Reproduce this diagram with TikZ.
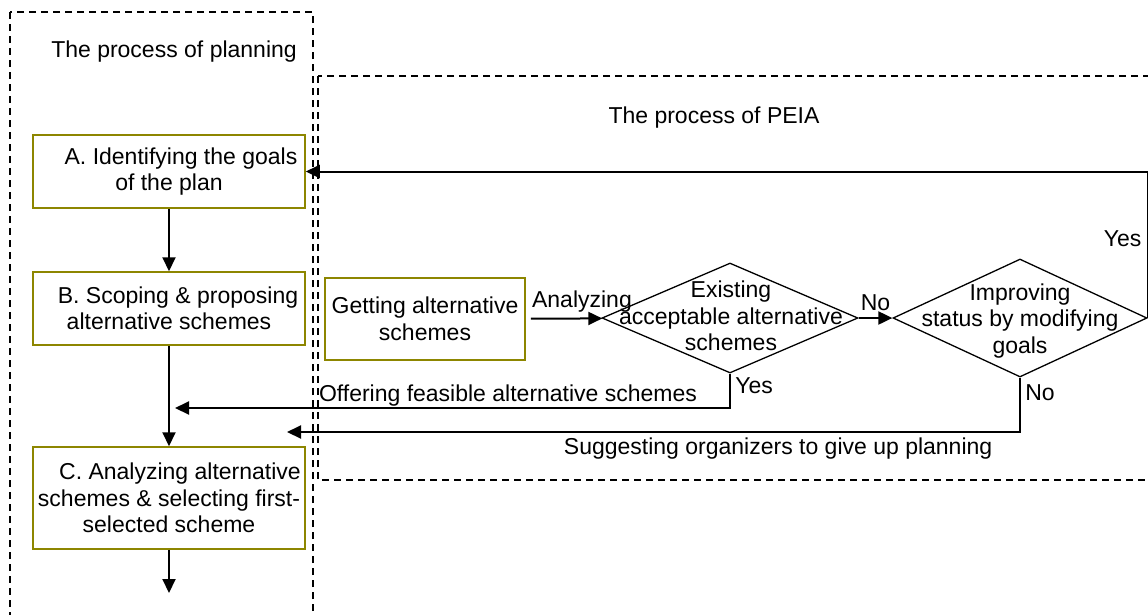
\documentclass[tikz,border=0pt]{standalone}
\usepackage{fontspec}
\setmainfont{Liberation Sans}
\usetikzlibrary{arrows.meta,shapes.geometric}
\begin{document}
\begin{tikzpicture}[x=1pt,y=-1pt,
        every node/.style={font=\fontsize{23}{26.5}\selectfont},
        stage/.style={draw=olive,line width=1.5pt,minimum width=272pt,align=center,inner sep=0pt},
        test/.style={draw,diamond,line width=1.3pt,inner sep=0pt},
        region/.style={draw,line width=1.3pt,dash pattern=on 7pt off 5pt},
        flow/.style={-{Triangle[length=14pt,width=13pt]},line width=2pt}]
    \clip (0,0) rectangle (1148,614);
    \draw[region] (10,12) rectangle (313,640);
    \draw[region] (318,76) rectangle (1170,480);
    \node (plantitle) at (174,52) {The process of planning};
    \node (peiatitle) at (714,118) {The process of PEIA};
    \node[stage,minimum height=73pt] (goals) at (169,171.5) {\hspace*{24pt}A. Identifying the goals\\of the plan};
    \node[stage,minimum height=73pt] (scoping) at (169,308.5) {\hspace*{18pt}B. Scoping \& proposing\\alternative schemes};
    \node[stage,minimum height=102pt] (select) at (169,498) {\hspace*{22pt}C. Analyzing alternative\\schemes \& selecting first-\\selected scheme};
    \node[stage,minimum width=200pt,minimum height=82pt] (getalt) at (425,319) {Getting alternative\\schemes};
    \node[test,minimum width=256pt,minimum height=110pt] (exist) at (730,318) {};
    \node[align=center] (existtext) at (731,316) {Existing\\acceptable alternative\\schemes};
    \node[test,minimum width=254pt,minimum height=118pt] (improve) at (1020,318) {};
    \node[align=center] (improvetext) at (1020,321) {Improving\\status by modifying\\goals};
    \coordinate (onward) at (169,593);
    \coordinate (offer) at (175,408);
    \coordinate (giveup) at (287,432);
    \draw[flow] (goals) -- (scoping);
    \draw[flow] (scoping) -- (select);
    \draw[flow] (select) -- (onward);
    \draw[flow,shorten <=5pt] (getalt) -- (exist) node[pos=0,anchor=south west,xshift=2pt,yshift=2pt] {Analyzing};
    \draw[flow] (exist) -- (improve) node[midway,above=3pt] {No};
    \draw[flow] (improve.east) |- (goals.east) node[pos=.27,left=2pt] {Yes};
    \draw[flow] (exist.south) |- (offer) node[pos=.18,right=1pt] {Yes}
        node[pos=.7,above=-3pt] {Offering feasible alternative schemes};
    \draw[flow] (improve.south) |- (giveup) node[pos=.14,right=1pt] {No}
        node[pos=.665,below=1pt] {Suggesting organizers to give up planning};
\end{tikzpicture}
\end{document}
